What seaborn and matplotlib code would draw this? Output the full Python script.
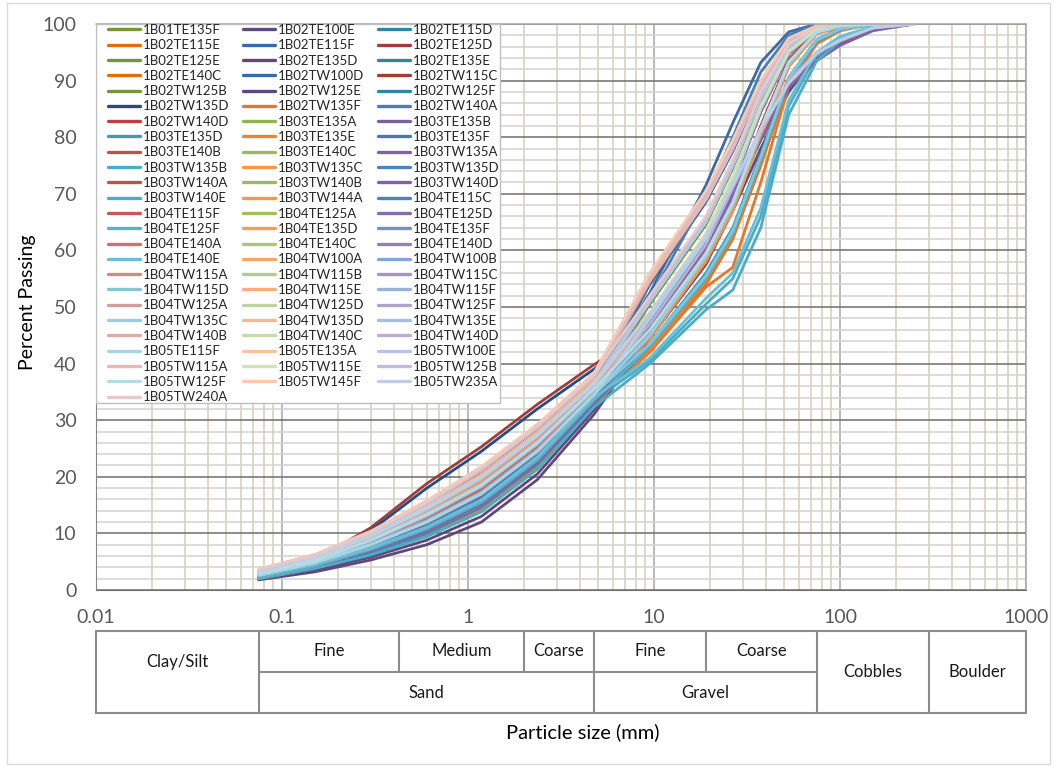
import matplotlib
matplotlib.use("Agg")
import matplotlib.pyplot as plt
import matplotlib.ticker as mticker
from matplotlib.patches import Rectangle
import pandas as pd
import seaborn as sns

# ---------------- data ----------------
sieve_mm = [0.075, 0.15, 0.3, 0.6, 1.18, 2.36, 4.75, 9.5, 19, 26.5, 37.5, 53, 75, 100, 150, 250]

series_names = [
    "1B01TE135F", "1B02TE100E", "1B02TE115D",
    "1B02TE115E", "1B02TE115F", "1B02TE125D",
    "1B02TE125E", "1B02TE135D", "1B02TE135E",
    "1B02TE140C", "1B02TW100D", "1B02TW115C",
    "1B02TW125B", "1B02TW125E", "1B02TW125F",
    "1B02TW135D", "1B02TW135F", "1B02TW140A",
    "1B02TW140D", "1B03TE135A", "1B03TE135B",
    "1B03TE135D", "1B03TE135E", "1B03TE135F",
    "1B03TE140B", "1B03TE140C", "1B03TW135A",
    "1B03TW135B", "1B03TW135C", "1B03TW135D",
    "1B03TW140A", "1B03TW140B", "1B03TW140D",
    "1B03TW140E", "1B03TW144A", "1B04TE115C",
    "1B04TE115F", "1B04TE125A", "1B04TE125D",
    "1B04TE125F", "1B04TE135D", "1B04TE135F",
    "1B04TE140A", "1B04TE140C", "1B04TE140D",
    "1B04TE140E", "1B04TW100A", "1B04TW100B",
    "1B04TW115A", "1B04TW115B", "1B04TW115C",
    "1B04TW115D", "1B04TW115E", "1B04TW115F",
    "1B04TW125A", "1B04TW125D", "1B04TW125F",
    "1B04TW135C", "1B04TW135D", "1B04TW135E",
    "1B04TW140B", "1B04TW140C", "1B04TW140D",
    "1B05TE115F", "1B05TE135A", "1B05TW100E",
    "1B05TW115A", "1B05TW115E", "1B05TW125B",
    "1B05TW125F", "1B05TW145F", "1B05TW235A",
    "1B05TW240A",
]

s00 = [2.6, 4.8, 8.1, 12.2, 17.3, 24.8, 34.6, 48.5, 62.5, 72.5, 85.5, 95.2, 99.1, 99.8, 100, 100]
s01 = [1.8, 3.2, 5.3, 8.0, 12.0, 19.5, 31.0, 45.0, 59.0, 69.0, 79.5, 88.5, 93.8, 96.5, 99.0, 100]
s02 = [2.3, 4.3, 7.3, 11.0, 15.8, 23.3, 33.8, 45.5, 59.5, 68.5, 81.5, 93.2, 98.6, 99.6, 100, 100]
s03 = [2.2, 4.2, 7.0, 10.6, 15.2, 22.6, 33.0, 43.5, 55.5, 63.5, 76.5, 90.5, 97.2, 99.1, 100, 100]
s04 = [2.8, 5.1, 8.7, 13.2, 18.6, 26.5, 37.0, 52.5, 71.5, 82.5, 93.2, 98.6, 100, 100, 100, 100]
s05 = [2.5, 5.3, 11.0, 18.8, 25.3, 32.8, 39.8, 46.0, 59.5, 68.0, 80.5, 93.0, 98.5, 99.6, 100, 100]
s06 = [2.9, 5.2, 8.8, 13.4, 18.6, 26.1, 35.6, 51.0, 65.0, 75.0, 87.0, 96.0, 99.4, 100, 100, 100]
s07 = [1.9, 3.5, 5.8, 8.8, 13.0, 20.5, 31.8, 44.5, 57.5, 67.0, 78.0, 88.0, 94.5, 97.0, 99.3, 100]
s08 = [2.5, 4.7, 7.9, 11.8, 16.8, 24.2, 34.2, 45.5, 59.5, 68.5, 81.5, 93.5, 98.6, 99.7, 100, 100]
s09 = [2.4, 4.4, 7.4, 11.1, 15.8, 23.4, 33.9, 42.5, 54.0, 62.0, 75.0, 89.5, 96.8, 99.0, 100, 100]
s10 = [2.6, 4.9, 8.2, 12.4, 17.6, 25.3, 35.5, 54.0, 68.5, 77.5, 88.5, 96.8, 99.6, 100, 100, 100]
s11 = [3.0, 5.5, 9.8, 15.0, 21.0, 28.5, 37.5, 48.0, 62.0, 72.0, 85.0, 95.0, 99.0, 99.8, 100, 100]
s12 = [2.7, 4.9, 8.3, 12.5, 17.6, 25.0, 35.0, 50.5, 64.5, 74.5, 86.5, 95.8, 99.4, 100, 100, 100]
s13 = [2.0, 3.8, 6.3, 9.6, 14.2, 21.8, 32.8, 44.5, 58.5, 67.5, 80.5, 92.8, 98.4, 99.6, 100, 100]
s14 = [2.3, 4.4, 7.4, 11.2, 16.0, 23.6, 34.0, 47.5, 61.5, 71.5, 84.5, 94.8, 99.0, 99.8, 100, 100]
s15 = [2.4, 5.0, 10.5, 18.0, 24.5, 32.0, 39.0, 47.5, 62.0, 72.0, 85.0, 95.0, 99.0, 99.8, 100, 100]
s16 = [2.2, 4.1, 6.9, 10.4, 15.0, 22.5, 33.0, 42.0, 53.5, 57.0, 72.0, 89.0, 96.5, 98.8, 100, 100]
s17 = [2.6, 4.8, 8.1, 12.3, 17.5, 25.5, 36.5, 51.5, 69.5, 80.0, 91.5, 98.0, 100, 100, 100, 100]
s18 = [2.8, 5.1, 8.6, 13.0, 18.2, 25.6, 35.2, 45.5, 60.0, 69.0, 82.0, 93.8, 98.8, 99.7, 100, 100]
s19 = [2.9, 5.3, 8.9, 13.5, 18.8, 26.3, 35.8, 48.5, 62.5, 72.5, 85.0, 95.0, 99.0, 99.8, 100, 100]
s20 = [2.3, 4.3, 7.1, 10.7, 15.4, 22.8, 33.3, 45.0, 58.5, 67.5, 80.0, 92.5, 98.3, 99.5, 100, 100]
s21 = [2.6, 4.8, 8.0, 12.0, 17.0, 24.5, 34.5, 43.5, 56.0, 64.0, 77.0, 90.5, 97.3, 99.2, 100, 100]
s22 = [2.0, 3.9, 6.4, 9.7, 14.3, 21.9, 32.6, 42.5, 54.5, 62.5, 75.5, 90.0, 97.0, 99.0, 100, 100]
s23 = [2.5, 4.7, 7.9, 11.9, 16.9, 24.6, 34.8, 51.5, 65.5, 75.5, 87.5, 96.2, 99.5, 100, 100, 100]
s24 = [3.0, 5.3, 9.0, 13.6, 19.0, 26.5, 36.0, 46.0, 59.0, 68.0, 81.0, 93.0, 98.5, 99.6, 100, 100]
s25 = [3.2, 5.7, 9.6, 14.5, 20.0, 27.5, 36.5, 51.0, 65.0, 75.0, 87.0, 96.0, 99.4, 100, 100, 100]
s26 = [2.5, 4.6, 7.7, 11.6, 16.5, 24.0, 34.0, 46.5, 60.5, 70.5, 80.5, 89.5, 94.5, 96.8, 99.2, 100]
s27 = [2.3, 4.3, 7.2, 10.8, 15.5, 23.0, 33.5, 40.5, 50.5, 55.0, 66.0, 85.5, 94.5, 97.5, 99.5, 100]
s28 = [2.4, 4.5, 7.5, 11.3, 16.1, 23.7, 34.0, 44.5, 58.0, 67.0, 80.0, 92.5, 98.3, 99.5, 100, 100]
s29 = [2.1, 4.0, 6.6, 10.0, 14.6, 22.2, 32.8, 43.0, 55.0, 63.0, 76.0, 90.0, 97.0, 99.0, 100, 100]
s30 = [2.7, 5.0, 8.4, 12.6, 17.8, 25.3, 35.0, 48.0, 62.0, 72.0, 84.5, 94.8, 99.0, 99.8, 100, 100]
s31 = [3.0, 5.4, 9.1, 13.8, 19.2, 26.7, 36.0, 51.5, 65.5, 75.5, 87.5, 96.2, 99.5, 100, 100, 100]
s32 = [2.2, 4.2, 7.0, 10.5, 15.2, 22.6, 33.0, 45.5, 59.5, 69.5, 79.5, 88.8, 93.5, 96.2, 98.8, 100]
s33 = [2.0, 3.8, 6.2, 9.4, 13.8, 21.3, 32.3, 40.0, 49.5, 53.0, 64.0, 84.0, 93.5, 97.0, 99.3, 100]
s34 = [2.3, 4.3, 7.2, 10.9, 15.6, 23.1, 33.6, 47.5, 61.5, 71.5, 84.5, 94.8, 99.0, 99.8, 100, 100]
s35 = [2.4, 4.5, 7.6, 11.4, 16.3, 23.8, 34.0, 45.0, 58.5, 67.5, 81.0, 93.0, 98.5, 99.6, 100, 100]
s36 = [2.6, 4.8, 8.1, 12.2, 17.2, 24.7, 34.7, 45.5, 59.0, 68.0, 81.0, 93.0, 98.5, 99.6, 100, 100]
s37 = [2.9, 5.2, 8.8, 13.3, 18.5, 26.0, 35.5, 48.5, 62.5, 72.5, 85.5, 95.3, 99.1, 99.8, 100, 100]
s38 = [2.5, 4.7, 7.9, 11.9, 16.9, 24.4, 34.4, 47.5, 61.5, 71.5, 84.5, 94.7, 98.9, 99.8, 100, 100]
s39 = [2.3, 4.3, 7.2, 10.8, 15.5, 23.0, 33.5, 43.0, 55.0, 63.0, 76.0, 90.0, 97.0, 99.0, 100, 100]
s40 = [2.7, 4.9, 8.2, 12.3, 17.4, 24.9, 34.8, 45.0, 58.5, 67.5, 80.5, 92.8, 98.4, 99.6, 100, 100]
s41 = [2.9, 5.2, 8.7, 13.1, 18.3, 25.8, 35.3, 48.0, 62.0, 72.0, 85.0, 95.0, 99.0, 99.8, 100, 100]
s42 = [2.8, 5.0, 8.3, 12.4, 17.4, 24.9, 34.8, 48.5, 62.5, 72.5, 85.5, 95.2, 99.1, 99.8, 100, 100]
s43 = [3.3, 5.8, 9.7, 14.6, 20.2, 27.7, 36.8, 51.5, 65.5, 75.5, 87.5, 96.2, 99.5, 100, 100, 100]
s44 = [2.9, 5.3, 9.0, 13.6, 19.0, 26.5, 36.0, 51.0, 65.0, 75.0, 86.5, 95.8, 99.4, 100, 100, 100]
s45 = [2.5, 4.5, 7.4, 11.1, 15.9, 23.5, 34.0, 41.0, 51.5, 56.0, 67.5, 86.5, 95.0, 97.8, 99.6, 100]
s46 = [3.0, 5.4, 9.1, 13.7, 19.1, 26.6, 36.1, 51.5, 65.5, 75.5, 87.5, 96.2, 99.5, 100, 100, 100]
s47 = [2.6, 4.8, 8.0, 12.1, 17.1, 24.6, 34.6, 45.5, 59.5, 68.5, 81.5, 93.3, 98.6, 99.7, 100, 100]
s48 = [3.0, 5.4, 9.0, 13.6, 18.9, 26.4, 35.9, 48.5, 62.5, 72.5, 85.5, 95.2, 99.1, 99.8, 100, 100]
s49 = [3.2, 5.7, 9.5, 14.3, 19.8, 27.3, 36.4, 51.0, 65.0, 75.0, 87.0, 96.0, 99.4, 100, 100, 100]
s50 = [2.9, 5.2, 8.8, 13.3, 18.5, 26.0, 35.5, 48.0, 62.0, 72.0, 85.0, 95.0, 99.0, 99.8, 100, 100]
s51 = [2.7, 4.9, 8.1, 12.2, 17.2, 24.7, 34.6, 43.5, 55.5, 63.5, 76.5, 90.5, 97.2, 99.1, 100, 100]
s52 = [3.3, 5.8, 9.8, 14.8, 20.4, 27.9, 37.0, 54.5, 69.0, 78.0, 89.0, 97.0, 99.6, 100, 100, 100]
s53 = [2.8, 5.1, 8.6, 13.0, 18.2, 25.7, 35.3, 48.0, 62.0, 72.0, 85.0, 95.0, 99.0, 99.8, 100, 100]
s54 = [3.1, 5.6, 9.4, 14.2, 19.7, 27.2, 36.3, 51.0, 65.0, 75.0, 87.0, 96.0, 99.4, 100, 100, 100]
s55 = [3.0, 5.3, 8.9, 13.5, 18.7, 26.2, 35.7, 48.5, 62.5, 72.5, 85.5, 95.2, 99.1, 99.8, 100, 100]
s56 = [3.2, 5.7, 9.6, 14.5, 20.0, 27.5, 36.5, 55.0, 69.0, 78.0, 89.0, 97.0, 99.6, 100, 100, 100]
s57 = [2.6, 4.8, 8.0, 12.0, 17.0, 24.5, 34.5, 45.0, 59.0, 68.0, 81.0, 93.0, 98.5, 99.6, 100, 100]
s58 = [3.6, 6.2, 10.2, 15.5, 21.5, 29.0, 38.0, 55.5, 69.5, 78.5, 89.5, 97.2, 99.6, 100, 100, 100]
s59 = [3.2, 5.7, 9.6, 14.5, 20.0, 27.5, 36.5, 51.5, 65.5, 75.5, 87.5, 96.2, 99.5, 100, 100, 100]
s60 = [2.9, 5.2, 8.8, 13.3, 18.5, 26.0, 35.5, 48.5, 62.5, 72.5, 85.5, 95.2, 99.1, 99.8, 100, 100]
s61 = [3.2, 5.7, 9.6, 14.5, 20.0, 27.5, 36.5, 51.0, 65.0, 75.0, 87.0, 96.0, 99.4, 100, 100, 100]
s62 = [2.9, 5.2, 8.8, 13.3, 18.5, 26.0, 35.5, 47.0, 61.0, 71.0, 81.0, 90.0, 95.0, 97.0, 99.3, 100]
s63 = [2.6, 4.8, 8.0, 12.0, 17.0, 24.5, 34.5, 48.0, 62.0, 72.0, 85.0, 95.0, 99.0, 99.8, 100, 100]
s64 = [3.5, 6.1, 10.0, 15.2, 21.1, 28.6, 37.6, 55.0, 69.0, 78.0, 89.0, 97.0, 99.6, 100, 100, 100]
s65 = [3.1, 5.6, 9.4, 14.2, 19.7, 27.2, 36.3, 51.0, 65.0, 75.0, 87.0, 96.0, 99.4, 100, 100, 100]
s66 = [3.6, 6.2, 10.2, 15.5, 21.5, 29.0, 38.0, 55.0, 69.0, 78.0, 89.0, 97.0, 99.6, 100, 100, 100]
s67 = [3.2, 5.7, 9.6, 14.5, 20.0, 27.5, 36.5, 49.0, 63.0, 73.0, 85.5, 95.2, 99.1, 99.8, 100, 100]
s68 = [3.5, 6.1, 10.1, 15.3, 21.2, 28.7, 37.8, 56.0, 70.0, 79.0, 89.5, 97.2, 99.6, 100, 100, 100]
s69 = [2.9, 5.2, 8.8, 13.3, 18.5, 26.0, 35.5, 46.0, 59.5, 68.5, 81.5, 93.3, 98.6, 99.7, 100, 100]
s70 = [3.7, 6.3, 10.4, 15.8, 21.8, 29.3, 38.3, 56.0, 70.5, 79.5, 90.0, 97.5, 99.7, 100, 100, 100]
s71 = [3.3, 5.8, 9.7, 14.6, 20.1, 27.6, 36.6, 49.0, 62.5, 71.5, 81.5, 89.5, 94.8, 97.2, 99.3, 100]
s72 = [3.6, 6.2, 10.2, 15.5, 21.5, 29.0, 38.0, 52.0, 66.0, 76.0, 88.0, 96.5, 99.5, 100, 100, 100]

curves = [s00, s01, s02, s03, s04, s05, s06, s07, s08, s09,
          s10, s11, s12, s13, s14, s15, s16, s17, s18, s19,
          s20, s21, s22, s23, s24, s25, s26, s27, s28, s29,
          s30, s31, s32, s33, s34, s35, s36, s37, s38, s39,
          s40, s41, s42, s43, s44, s45, s46, s47, s48, s49,
          s50, s51, s52, s53, s54, s55, s56, s57, s58, s59,
          s60, s61, s62, s63, s64, s65, s66, s67, s68, s69,
          s70, s71, s72]

# soil classification table below the chart
class_edges = [0.01, 0.075, 0.425, 2, 4.75, 19, 75, 300, 1000]
sub_labels = ["Fine", "Medium", "Coarse", "Fine", "Coarse"]
main_labels = ["Clay/Silt", "Sand", "Gravel", "Cobbles", "Boulder"]

# ---------------- styles ----------------
line_colors = [
    "#77933C", "#5F497A", "#31859C", "#E46C0A", "#3D69A6", "#A03C39",
    "#77933C", "#5F497A", "#31859C", "#E46C0A", "#3D69A6", "#A03C39",
    "#77933C", "#5F497A", "#31859C", "#254C80", "#E2782C", "#4A7EBB",
    "#B9423F", "#8DB352", "#7A60A0", "#3A9DB8", "#F08228", "#4677BB",
    "#C0504D", "#9BBB59", "#8064A2", "#4BACC6", "#F79646", "#4F81BD",
    "#C0504D", "#9BBB59", "#8064A2", "#4BACC6", "#F79646", "#4F81BD",
    "#C45A57", "#A0C060", "#866BA7", "#55B2CA", "#F89C52", "#6C93CC",
    "#CD716E", "#AAC776", "#9580B6", "#6CBED4", "#F9A665", "#86A5D4",
    "#D28A88", "#B3CD88", "#A394C2", "#84C6D9", "#FAAE78", "#97B2DB",
    "#D69C9B", "#BDD49B", "#AFA3C9", "#97CFDE", "#F9B98D", "#A6BDE0",
    "#DCACAB", "#C6DAAB", "#BAAFD1", "#A8D5E3", "#FAC3A0", "#B3C5E4",
    "#E1BAB9", "#CFE0BA", "#C4BBD7", "#B6DBE7", "#FACAAE", "#C0CDE6",
    "#E8C8C8",
]

sns.set_style("white")
plt.rcParams["font.family"] = ["Lato", "DejaVu Sans"]

W, H = 1054, 767
fig = plt.figure(figsize=(W / 100, H / 100), dpi=100)

def fx(px):
    return px / W

def fy(py):
    return 1 - py / H

ax_l, ax_r, ax_t, ax_b = 96, 1026, 24, 590
ax = fig.add_axes([fx(ax_l), fy(ax_b), fx(ax_r - ax_l), (ax_b - ax_t) / H])

rows = []
for name, vals in zip(series_names, curves):
    for s, v in zip(sieve_mm, vals):
        rows.append((name, s, v))
df = pd.DataFrame(rows, columns=["sample", "size", "passing"])

palette = dict(zip(series_names, line_colors))
sns.lineplot(data=df, x="size", y="passing", hue="sample", hue_order=series_names,
             palette=palette, sort=False, estimator=None, linewidth=2.0,
             ax=ax, legend="full")

ax.set_xscale("log")
ax.set_xlim(0.01, 1000)
ax.set_ylim(0, 100)
ax.set_xlabel("")
ax.set_ylabel("")
ax.xaxis.set_major_locator(mticker.LogLocator(base=10))
ax.xaxis.set_minor_locator(mticker.LogLocator(base=10, subs=range(2, 10)))
ax.xaxis.set_major_formatter(mticker.FuncFormatter(lambda v, p: f"{v:g}"))
ax.xaxis.set_minor_formatter(mticker.NullFormatter())
ax.yaxis.set_major_locator(mticker.MultipleLocator(10))
ax.yaxis.set_minor_locator(mticker.MultipleLocator(2))

ax.set_axisbelow(True)
ax.grid(True, which="minor", axis="x", color="#DAD6BE", lw=1.3)
ax.grid(True, which="minor", axis="y", color="#D2D2D2", lw=1.1)
ax.grid(True, which="major", axis="x", color="#A6A6A6", lw=1.1)
ax.grid(True, which="major", axis="y", color="#6E6E6E", lw=1.1)

ax.tick_params(axis="both", which="minor", length=0)
ax.tick_params(axis="both", which="major", length=6, width=1, color="#868686",
               labelcolor="#595959", labelsize=14, direction="out")
ax.tick_params(axis="x", which="major", pad=8)
ax.tick_params(axis="y", which="major", pad=8)

for side in ["top", "right"]:
    ax.spines[side].set_color("#A6A6A6")
    ax.spines[side].set_linewidth(1.1)
ax.spines["left"].set_color("#868686")
ax.spines["bottom"].set_color("#6E6E6E")
for sp in ax.spines.values():
    sp.set_visible(True)

# legend: white box plus three single-column legends (row-major order)
handles, labels = ax.get_legend_handles_labels()
ax.get_legend().remove()
box = Rectangle(((96 - ax_l) / (ax_r - ax_l), (ax_b - 403) / (ax_b - ax_t)),
                (500 - 96) / (ax_r - ax_l), (403 - 24) / (ax_b - ax_t),
                transform=ax.transAxes, facecolor="white", edgecolor="#BFBFBF",
                lw=1.0, zorder=4)
ax.add_patch(box)
col_x = [108, 243, 378]
legs = []
for c, xpx in enumerate(col_x):
    idx = list(range(c, len(handles), 3))
    lg = ax.legend([handles[i] for i in idx], [labels[i] for i in idx],
                   ncol=1, loc="upper left",
                   bbox_to_anchor=((xpx - ax_l) / (ax_r - ax_l), 1.0),
                   borderaxespad=0, borderpad=0, frameon=False,
                   fontsize=9.5, handlelength=2.4, handletextpad=0.22,
                   labelspacing=0.25)
    lg.set_zorder(5)
    for t in lg.get_texts():
        t.set_color("#262626")
    for h in lg.get_lines():
        h.set_linewidth(2.4)
    legs.append(lg)
for lg in legs[:-1]:
    ax.add_artist(lg)

# axis titles
fig.text(fx(28), fy(302), "Percent Passing", rotation=90, ha="center", va="center",
         fontsize=14, color="black")
fig.text(fx(583), fy(732), "Particle size (mm)", ha="center", va="center",
         fontsize=14.5, color="black")

# classification table
tb_t, tb_b = 631, 713
tax = fig.add_axes([fx(ax_l), fy(tb_b), fx(ax_r - ax_l), (tb_b - tb_t) / H])
tax.set_xscale("log")
tax.set_xlim(0.01, 1000)
tax.set_ylim(0, 2)
tax.axis("off")
tc = "#8C8C8C"
lw = 1.5
e = class_edges
tax.plot([e[0], e[-1], e[-1], e[0], e[0]], [0, 0, 2, 2, 0], color=tc, lw=lw, clip_on=False)
tax.plot([e[1], e[6]], [1, 1], color=tc, lw=lw)
for x in [e[1], e[4], e[6], e[7]]:
    tax.plot([x, x], [0, 2], color=tc, lw=lw)
for x in [e[2], e[3], e[5]]:
    tax.plot([x, x], [1, 2], color=tc, lw=lw)

def gmid(a, b):
    return (a * b) ** 0.5

tfs = 12
for i, lab in enumerate(sub_labels):
    tax.text(gmid(e[i + 1], e[i + 2]), 1.5, lab, ha="center", va="center", fontsize=tfs, color="#1a1a1a")
tax.text(gmid(e[0], e[1]), 1.24, main_labels[0], ha="center", va="center", fontsize=tfs, color="#1a1a1a")
tax.text(gmid(e[1], e[4]), 0.5, main_labels[1], ha="center", va="center", fontsize=tfs, color="#1a1a1a")
tax.text(gmid(e[4], e[6]), 0.5, main_labels[2], ha="center", va="center", fontsize=tfs, color="#1a1a1a")
tax.text(gmid(e[6], e[7]), 1.0, main_labels[3], ha="center", va="center", fontsize=tfs, color="#1a1a1a")
tax.text(gmid(e[7], e[8]), 1.0, main_labels[4], ha="center", va="center", fontsize=tfs, color="#1a1a1a")

# chart border
fig.patches.append(Rectangle((fx(7), fy(764)), fx(1050 - 7), (764 - 3) / H,
                             transform=fig.transFigure, fill=False,
                             edgecolor="#D9D9D9", lw=1.0))

fig.savefig("out.png", dpi=100)
